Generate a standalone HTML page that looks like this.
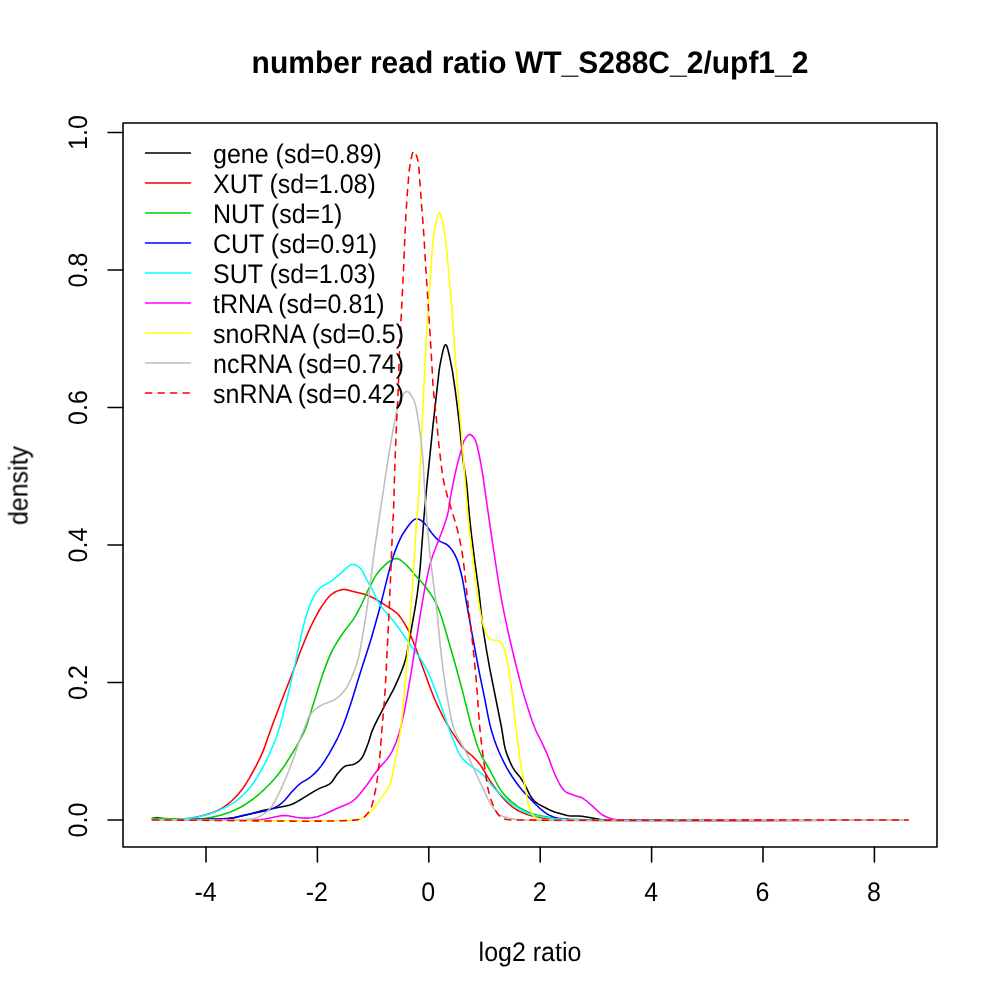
<!DOCTYPE html>
<html><head><meta charset="utf-8"><style>
html,body{margin:0;padding:0;background:#fff;}
svg{display:block;}
.t{opacity:0.999;}
text{font-family:"Liberation Sans",sans-serif;font-size:25px;fill:#000;text-rendering:geometricPrecision;}
</style></head><body>
<svg width="1000" height="1000" viewBox="0 0 1000 1000">
<rect x="0" y="0" width="1000" height="1000" fill="#fff"/>
<g fill="none" stroke-width="1.5625" stroke-linecap="round" stroke-linejoin="round">
<path d="M152.50,818.50 L155.42,817.81 L157.40,817.65 L162.81,818.57 L168.80,818.94 L182.29,819.23 L200.29,819.30 L216.79,819.03 L223.28,818.70 L229.26,818.25 L234.22,817.62 L238.64,816.79 L250.29,813.92 L259.45,811.38 L263.81,810.30 L278.02,807.40 L285.91,806.05 L288.82,805.36 L292.57,803.97 L296.58,801.93 L301.79,798.95 L312.38,792.32 L318.04,789.12 L320.77,787.88 L326.39,785.78 L329.04,784.40 L330.62,783.18 L331.98,781.72 L337.06,774.30 L340.93,769.72 L343.07,767.62 L344.69,766.47 L346.05,765.85 L347.50,765.49 L352.44,764.80 L353.85,764.32 L355.20,763.67 L357.33,762.37 L359.29,760.81 L361.01,759.01 L362.45,756.97 L363.84,754.32 L365.56,750.16 L368.34,742.66 L371.49,732.65 L373.98,726.64 L377.27,719.91 L384.45,706.17 L393.01,690.33 L395.61,684.93 L399.27,676.71 L402.09,669.76 L404.26,663.63 L405.80,658.35 L407.12,652.50 L414.92,609.20 L417.22,594.38 L418.67,582.97 L420.21,567.04 L424.13,515.19 L426.70,486.81 L432.86,426.62 L439.13,370.47 L439.72,366.52 L440.85,360.62 L442.93,350.84 L443.72,347.95 L444.39,346.07 L444.86,345.23 L445.50,344.78 L445.84,344.82 L446.16,345.04 L446.68,345.81 L447.06,346.73 L448.06,350.08 L449.18,354.95 L452.35,370.63 L455.26,390.42 L457.59,408.77 L459.38,424.17 L462.81,458.50 L463.65,464.44 L465.60,475.77 L466.46,482.21 L467.34,491.17 L469.41,516.08 L471.30,533.48 L474.83,561.76 L478.87,590.98 L481.81,618.33 L483.66,632.71 L486.19,648.50 L489.76,668.69 L501.72,728.51 L504.30,744.80 L505.46,749.66 L507.17,754.89 L509.99,761.84 L512.37,766.79 L514.72,770.63 L519.50,776.40 L521.78,779.69 L525.51,786.19 L529.71,794.70 L532.13,798.50 L534.02,800.82 L535.90,802.46 L537.99,803.82 L546.79,808.56 L550.38,810.33 L552.69,811.30 L555.52,812.28 L566.12,815.21 L568.56,815.77 L571.04,816.07 L578.53,815.95 L582.02,816.20 L589.42,817.40 L600.71,819.56 L606.69,820.10 L616.18,820.42 L631.18,820.65 L676.18,820.81 L907.80,820.00" stroke="#000000"/>
<path d="M152.50,818.80 L173.49,819.23 L178.49,819.14 L183.48,818.83 L189.45,818.20 L195.37,817.24 L201.23,815.95 L207.51,814.26 L212.26,812.72 L216.45,811.07 L220.04,809.32 L223.89,807.00 L227.93,804.05 L232.11,800.47 L235.66,796.95 L238.97,793.21 L241.78,789.70 L244.14,786.46 L246.33,783.12 L248.92,778.84 L253.33,771.00 L256.63,764.83 L259.75,758.56 L262.24,753.10 L264.82,746.60 L270.06,731.48 L274.93,718.35 L281.33,701.53 L293.50,670.32 L300.58,651.08 L305.02,639.93 L308.51,631.63 L311.40,625.26 L314.95,618.09 L318.54,611.51 L321.72,606.42 L326.33,599.88 L328.22,597.56 L329.95,595.75 L331.45,594.44 L333.07,593.27 L335.22,592.00 L337.02,591.13 L338.89,590.42 L340.81,589.88 L342.78,589.55 L344.28,589.48 L345.77,589.60 L347.73,589.97 L353.04,591.42 L362.77,593.72 L367.50,595.31 L372.54,597.51 L375.66,599.11 L378.25,600.61 L392.99,610.04 L396.52,612.82 L397.94,614.23 L399.58,616.12 L401.95,619.34 L404.61,623.57 L407.76,629.25 L409.95,633.75 L412.08,638.82 L416.63,650.46 L430.47,688.52 L434.67,699.23 L438.39,707.42 L442.87,716.36 L446.93,723.83 L451.09,730.66 L456.87,739.42 L460.71,744.67 L463.21,747.79 L466.30,751.05 L471.71,755.50 L473.56,757.17 L476.66,760.44 L479.53,763.90 L482.39,768.00 L487.42,776.64 L490.11,780.85 L497.02,790.67 L501.66,796.55 L507.18,802.34 L509.75,804.71 L512.46,806.93 L514.90,808.67 L517.46,810.23 L520.12,811.61 L523.32,813.03 L528.02,814.75 L532.33,816.02 L537.22,817.06 L544.14,818.15 L549.60,818.78 L556.08,819.26 L564.57,819.74 L572.56,819.96 L599.56,820.20 L650.56,820.29 L907.80,820.00" stroke="#FF0000"/>
<path d="M152.50,818.40 L176.00,818.72 L189.99,819.15 L196.99,819.03 L203.96,818.41 L210.39,817.47 L216.75,816.13 L223.02,814.42 L229.65,812.19 L235.65,809.70 L241.43,806.72 L246.96,803.31 L253.09,798.99 L258.92,794.27 L265.20,788.55 L271.19,782.52 L275.21,778.06 L278.70,773.81 L281.68,769.80 L285.05,764.83 L291.71,754.26 L295.83,747.40 L300.96,738.24 L303.92,732.45 L305.66,728.31 L307.30,723.58 L320.79,680.13 L323.29,672.53 L326.58,663.62 L329.20,657.13 L331.68,651.66 L334.22,646.79 L337.82,640.79 L342.53,633.71 L344.88,630.47 L351.93,621.39 L353.63,618.92 L355.47,615.94 L358.13,611.13 L361.75,603.99 L367.31,591.70 L369.27,587.65 L374.17,578.36 L377.06,573.68 L379.20,570.91 L381.58,568.35 L384.81,565.22 L387.86,562.63 L390.29,560.88 L392.45,559.63 L394.30,558.88 L396.25,558.56 L397.24,558.63 L398.67,559.04 L400.84,560.26 L403.52,562.49 L407.20,565.88 L408.93,567.69 L414.67,574.62 L421.78,582.34 L424.96,586.20 L428.53,591.02 L431.37,595.13 L433.74,598.96 L435.88,602.91 L437.78,606.99 L439.63,611.64 L441.58,617.31 L443.79,624.48 L454.30,661.00 L459.37,679.31 L462.72,691.87 L469.01,717.09 L471.71,727.24 L476.28,742.57 L477.91,747.30 L479.57,751.49 L481.01,754.67 L482.61,757.79 L490.38,771.19 L497.32,784.49 L499.60,788.37 L501.87,791.67 L504.07,794.38 L506.44,796.96 L508.94,799.41 L511.94,802.05 L514.69,804.22 L517.94,806.54 L520.90,808.41 L523.96,810.11 L528.49,812.21 L533.17,813.97 L537.02,815.05 L541.92,816.07 L555.20,818.49 L559.66,819.10 L566.63,819.67 L577.12,820.06 L606.62,820.43 L657.12,820.55 L907.80,820.00" stroke="#00CD00"/>
<path d="M152.50,820.00 L202.49,819.25 L222.49,818.75 L227.98,818.45 L231.46,818.06 L234.90,817.45 L244.62,815.09 L266.16,810.62 L270.03,809.63 L273.30,808.39 L276.41,806.79 L279.36,804.92 L282.14,802.79 L285.00,800.00 L291.41,792.33 L295.50,787.94 L297.99,785.48 L299.89,783.86 L301.51,782.68 L307.56,779.17 L310.02,777.47 L314.17,773.86 L317.98,769.89 L321.44,765.62 L324.85,760.69 L329.02,753.86 L333.93,745.15 L337.57,738.03 L340.72,731.22 L343.39,724.75 L346.16,717.25 L351.90,700.18 L359.66,674.85 L367.64,650.10 L371.30,638.15 L376.00,621.81 L380.62,604.93 L388.19,574.36 L391.18,563.25 L393.61,555.11 L396.41,547.62 L398.90,541.61 L401.29,536.66 L403.30,533.20 L407.48,526.98 L410.53,523.02 L412.99,520.54 L414.19,519.65 L415.07,519.18 L416.00,518.88 L416.98,518.78 L417.96,518.91 L418.90,519.21 L420.65,520.15 L422.64,521.66 L425.24,524.00 L427.15,526.31 L429.84,530.52 L431.30,532.55 L434.80,536.79 L437.60,539.64 L439.17,540.86 L440.47,541.61 L445.97,544.00 L447.22,544.82 L448.72,546.13 L450.73,548.35 L452.50,550.77 L454.56,554.20 L456.11,557.33 L457.58,561.05 L459.11,565.81 L461.07,573.05 L462.32,578.40 L463.71,585.77 L466.64,603.53 L472.89,638.48 L479.47,673.36 L484.28,696.37 L487.75,714.54 L489.49,722.86 L491.70,731.58 L494.59,740.63 L496.51,745.78 L498.98,751.79 L501.43,757.27 L504.06,762.67 L506.63,767.53 L509.38,772.29 L512.04,776.52 L515.15,781.06 L518.42,785.48 L521.87,789.77 L525.50,793.89 L530.31,798.98 L535.20,803.99 L539.19,807.77 L543.72,811.70 L546.59,813.70 L549.66,815.37 L552.87,816.77 L555.72,817.69 L558.66,818.30 L562.63,818.77 L569.11,819.31 L586.10,819.84 L613.60,820.04 L659.60,820.12 L907.80,820.00" stroke="#0000FF"/>
<path d="M152.50,819.60 L176.00,819.20 L181.49,818.97 L186.48,818.60 L192.93,817.83 L198.84,816.82 L204.20,815.57 L209.47,813.99 L216.02,811.55 L222.43,808.74 L229.14,805.37 L234.29,802.31 L238.32,799.34 L242.43,795.70 L246.62,791.41 L250.83,786.46 L254.08,782.02 L257.60,776.55 L261.37,770.07 L264.86,763.44 L268.73,755.31 L273.15,745.24 L275.74,738.74 L278.21,731.66 L280.27,724.96 L282.53,716.77 L288.20,693.97 L294.41,667.18 L300.73,637.34 L303.45,625.65 L305.18,619.39 L307.87,610.80 L310.05,604.68 L311.99,600.07 L314.04,596.06 L316.11,592.64 L318.23,589.86 L320.33,587.73 L322.35,586.26 L328.50,582.93 L331.80,580.68 L340.70,573.40 L346.49,567.88 L348.81,565.98 L350.08,565.20 L350.99,564.81 L351.95,564.57 L352.94,564.51 L353.93,564.62 L355.36,565.02 L357.58,566.16 L359.95,567.99 L361.58,569.87 L363.11,572.44 L365.99,578.27 L372.30,589.63 L377.42,600.48 L379.90,604.82 L382.88,608.83 L391.85,618.92 L396.15,624.44 L400.51,630.54 L409.60,643.71 L419.25,657.09 L422.29,661.68 L424.60,665.54 L428.22,672.67 L431.94,681.41 L438.91,699.62 L448.91,728.43 L450.98,734.06 L457.75,750.74 L459.04,753.45 L460.60,756.01 L463.40,759.52 L466.61,762.68 L471.78,766.61 L478.38,771.13 L481.09,773.33 L483.69,775.67 L486.82,778.91 L491.36,784.87 L494.33,788.26 L499.25,793.23 L504.80,798.28 L509.79,802.44 L514.21,805.71 L520.52,809.77 L525.37,812.34 L530.02,814.18 L534.84,815.48 L541.22,816.73 L551.10,818.26 L555.08,818.70 L566.54,819.62 L581.03,820.15 L612.03,820.46 L661.53,820.55 L907.80,820.00" stroke="#00FFFF"/>
<path d="M152.50,820.00 L227.00,820.26 L242.00,820.18 L253.50,819.92 L260.49,819.57 L264.96,819.10 L279.63,816.00 L282.10,815.60 L284.59,815.42 L288.07,815.69 L295.90,817.33 L301.36,817.95 L306.36,818.13 L311.84,817.71 L314.31,817.32 L317.23,816.66 L321.99,815.13 L326.59,813.19 L337.93,807.92 L345.83,804.80 L348.57,803.58 L351.61,801.85 L354.39,799.72 L357.25,796.93 L360.20,793.53 L367.30,784.49 L374.71,773.81 L377.37,770.18 L379.92,767.10 L386.32,760.08 L389.31,756.08 L392.06,751.32 L394.44,746.36 L396.46,741.25 L398.65,734.60 L400.58,727.87 L402.34,720.58 L404.30,711.29 L406.55,699.50 L411.36,671.41 L420.31,614.61 L423.62,594.89 L426.58,579.67 L429.02,568.44 L430.77,561.66 L432.41,556.41 L433.97,552.19 L438.02,541.96 L443.44,527.44 L445.76,520.84 L447.22,516.05 L448.42,510.69 L449.70,501.78 L451.48,491.94 L455.06,473.79 L457.49,463.58 L461.64,448.64 L462.98,443.31 L464.15,440.56 L466.29,437.19 L467.95,435.34 L468.76,434.80 L469.67,434.55 L470.14,434.58 L471.04,434.91 L472.23,435.80 L473.86,437.68 L475.16,439.80 L475.90,441.66 L476.47,443.57 L478.19,450.36 L479.16,454.76 L481.09,465.08 L482.89,475.93 L491.14,533.34 L495.64,563.50 L498.79,583.76 L501.48,599.53 L504.93,617.20 L509.31,637.22 L515.19,662.04 L520.36,682.39 L523.86,694.91 L527.81,707.82 L531.91,720.15 L535.22,729.06 L536.84,732.71 L539.64,738.02 L542.24,743.42 L546.82,753.43 L548.90,758.52 L553.52,771.20 L555.87,776.72 L558.81,782.52 L560.77,786.00 L562.77,788.87 L564.82,791.06 L566.84,792.51 L569.09,793.58 L576.19,795.99 L580.51,797.24 L581.89,797.82 L583.63,798.80 L585.65,800.27 L587.94,802.21 L593.55,807.18 L599.77,812.98 L601.75,814.49 L603.45,815.54 L606.60,817.06 L609.89,818.25 L613.75,819.29 L616.72,819.73 L624.70,820.17 L636.70,820.46 L679.70,820.73 L728.20,820.65 L907.80,820.00" stroke="#FF00FF"/>
<path d="M152.50,820.00 L277.50,820.66 L312.00,820.72 L342.00,820.43 L349.99,820.15 L357.97,819.61 L359.44,819.33 L361.33,818.70 L362.69,818.07 L364.42,817.06 L367.99,814.33 L370.20,812.30 L371.94,810.51 L373.89,808.23 L376.35,805.08 L383.61,794.90 L386.64,790.31 L389.03,785.92 L390.04,783.64 L390.89,781.29 L392.31,775.98 L394.72,762.69 L397.59,748.48 L399.10,740.12 L400.44,731.22 L401.60,721.79 L402.95,708.86 L404.38,693.42 L407.24,658.54 L411.53,601.20 L413.11,577.76 L416.40,524.36 L418.37,500.94 L419.47,480.47 L424.85,367.10 L426.45,336.64 L428.20,307.19 L431.23,265.30 L432.11,250.83 L433.38,237.89 L434.04,232.94 L434.70,228.99 L436.45,220.67 L437.68,215.83 L438.58,213.53 L439.16,212.94 L439.49,212.89 L439.81,213.04 L440.34,213.75 L441.32,216.57 L442.38,220.95 L444.09,229.27 L445.12,236.19 L446.93,252.59 L449.64,281.97 L451.83,307.88 L456.86,378.20 L460.96,427.53 L467.70,514.77 L469.54,532.17 L475.38,579.81 L476.68,589.73 L478.44,601.60 L480.38,612.93 L482.44,622.20 L483.54,626.05 L485.33,631.25 L486.37,634.06 L487.20,635.88 L488.55,637.96 L489.27,638.64 L490.11,639.17 L491.50,639.69 L492.96,640.01 L497.90,640.63 L499.70,641.45 L500.87,642.37 L502.09,643.94 L503.14,646.20 L504.25,649.52 L505.91,655.28 L507.04,660.15 L508.28,666.53 L510.18,678.88 L511.84,691.78 L515.62,725.06 L519.33,754.33 L521.37,768.18 L522.56,774.57 L525.11,786.81 L527.01,797.64 L528.06,802.53 L529.34,806.84 L530.82,811.09 L532.07,813.81 L533.15,815.49 L534.52,816.92 L536.19,818.02 L538.50,818.95 L541.40,819.69 L543.88,819.92 L561.38,820.21 L593.88,820.41 L645.88,820.45 L907.80,820.00" stroke="#FFFF00"/>
<path d="M152.50,820.00 L168.50,819.96 L219.00,820.20 L232.50,820.04 L242.49,819.67 L249.96,819.00 L253.41,818.45 L255.85,817.89 L257.74,817.25 L260.02,816.23 L262.22,815.04 L264.32,813.69 L266.71,811.88 L268.93,809.86 L270.61,808.02 L272.11,806.01 L274.89,801.28 L278.57,794.17 L280.73,789.66 L285.96,777.76 L290.11,767.57 L293.58,758.20 L299.83,739.20 L304.12,729.07 L307.53,719.68 L308.58,717.41 L309.57,715.67 L311.36,713.27 L313.77,710.74 L316.45,708.48 L319.72,706.19 L321.45,705.19 L323.26,704.35 L330.30,701.77 L332.61,700.80 L334.80,699.61 L336.85,698.18 L339.53,695.93 L342.36,693.11 L344.94,690.06 L346.91,687.17 L348.55,684.08 L351.47,677.72 L353.76,672.17 L355.66,667.01 L357.06,662.73 L358.27,658.40 L359.38,653.53 L360.43,648.13 L364.36,625.46 L367.04,608.17 L369.01,593.81 L373.31,559.07 L375.22,544.70 L387.78,461.14 L392.48,433.03 L396.88,410.45 L397.75,406.55 L398.72,403.19 L399.62,400.86 L400.94,398.16 L402.68,395.13 L404.15,393.12 L405.62,391.80 L406.51,391.44 L406.97,391.41 L407.89,391.64 L408.71,392.16 L409.75,393.22 L410.66,394.42 L411.98,396.54 L413.14,398.75 L414.18,401.02 L414.86,402.90 L415.91,406.76 L416.79,411.17 L420.04,432.42 L421.41,443.84 L422.74,457.78 L423.47,468.25 L424.89,494.21 L425.65,505.69 L427.88,533.10 L430.11,555.99 L431.45,567.41 L436.15,604.11 L437.35,615.55 L440.28,646.41 L442.78,667.26 L444.52,680.14 L446.18,691.02 L449.52,710.23 L450.95,717.59 L452.09,722.46 L453.32,726.79 L454.62,730.57 L455.97,733.79 L458.45,738.70 L464.44,749.10 L466.98,753.98 L487.58,798.44 L490.17,803.28 L492.92,807.46 L495.64,811.04 L498.09,813.54 L499.67,814.76 L500.95,815.53 L504.17,816.88 L508.04,817.88 L515.41,819.27 L519.39,819.69 L526.38,820.06 L543.37,820.50 L579.87,820.81 L633.87,820.85 L843.37,820.12 L907.80,820.00" stroke="#BEBEBE"/>
<path d="M152.50,820.00 L185.50,820.16 L267.00,820.98 L300.49,821.19 L329.99,821.07 L340.99,820.84 L348.98,820.50 L353.97,820.11 L358.92,819.46 L360.84,818.91 L362.61,818.01 L363.85,817.17 L365.39,815.89 L367.76,813.32 L369.73,810.44 L371.26,807.29 L372.24,804.46 L373.02,801.56 L375.55,789.83 L376.96,781.45 L378.39,770.55 L379.91,755.62 L381.84,730.70 L384.20,703.30 L385.04,691.83 L385.94,675.86 L389.65,599.45 L392.30,534.50 L393.73,505.54 L394.38,480.54 L395.30,454.06 L396.40,426.58 L398.35,386.13 L399.50,350.15 L403.51,270.25 L404.91,235.78 L405.87,215.30 L407.28,193.85 L408.84,174.41 L409.40,168.94 L410.80,160.56 L412.04,154.69 L412.62,152.78 L413.04,151.91 L413.65,151.38 L414.01,151.37 L414.69,151.85 L415.45,153.10 L416.42,155.41 L417.35,158.26 L418.22,162.16 L418.92,168.12 L419.83,181.58 L423.83,234.93 L425.62,265.38 L428.68,311.78 L431.74,362.19 L432.97,384.65 L433.77,393.62 L436.25,417.49 L438.93,445.36 L441.36,466.22 L442.99,477.60 L443.90,482.52 L444.88,486.91 L447.51,496.56 L451.05,508.54 L455.38,522.38 L457.15,528.64 L459.87,540.32 L462.12,552.62 L463.22,560.04 L464.26,568.47 L467.85,602.78 L471.84,636.55 L473.99,656.43 L476.53,683.31 L478.89,716.73 L479.83,728.19 L481.42,743.11 L483.71,760.96 L486.66,781.25 L488.11,789.11 L489.21,793.99 L490.65,798.77 L492.63,803.91 L495.75,810.73 L497.52,813.74 L498.79,815.28 L500.22,816.67 L501.84,817.84 L503.16,818.53 L504.57,819.02 L506.53,819.44 L509.50,819.83 L512.00,819.97 L538.99,820.15 L596.49,820.22 L907.80,820.00" stroke="#FF0000" stroke-dasharray="6.25 6.25"/>
</g>
<g fill="none" stroke="#000" stroke-width="1.5625" stroke-linecap="round" stroke-linejoin="round">
<rect x="123" y="123" width="814" height="724"/>
<line x1="108" y1="820.0" x2="123" y2="820.0"/>
<line x1="108" y1="682.5" x2="123" y2="682.5"/>
<line x1="108" y1="545.0" x2="123" y2="545.0"/>
<line x1="108" y1="407.5" x2="123" y2="407.5"/>
<line x1="108" y1="270.0" x2="123" y2="270.0"/>
<line x1="108" y1="132.5" x2="123" y2="132.5"/>
<line x1="206.0" y1="847" x2="206.0" y2="862"/>
<line x1="317.4" y1="847" x2="317.4" y2="862"/>
<line x1="428.8" y1="847" x2="428.8" y2="862"/>
<line x1="540.2" y1="847" x2="540.2" y2="862"/>
<line x1="651.6" y1="847" x2="651.6" y2="862"/>
<line x1="763.0" y1="847" x2="763.0" y2="862"/>
<line x1="874.4" y1="847" x2="874.4" y2="862"/>
</g>
<g stroke-width="1.5625" fill="none" stroke-linecap="round">
<line x1="145.5" y1="153" x2="190.5" y2="153" stroke="#000000"/>
<line x1="145.5" y1="183" x2="190.5" y2="183" stroke="#FF0000"/>
<line x1="145.5" y1="213" x2="190.5" y2="213" stroke="#00CD00"/>
<line x1="145.5" y1="243" x2="190.5" y2="243" stroke="#0000FF"/>
<line x1="145.5" y1="273" x2="190.5" y2="273" stroke="#00FFFF"/>
<line x1="145.5" y1="303" x2="190.5" y2="303" stroke="#FF00FF"/>
<line x1="145.5" y1="333" x2="190.5" y2="333" stroke="#FFFF00"/>
<line x1="145.5" y1="363" x2="190.5" y2="363" stroke="#BEBEBE"/>
<line x1="145.5" y1="393" x2="190.5" y2="393" stroke="#FF0000" stroke-dasharray="6.25 6.25"/>
</g>
<g class="t">
<text transform="translate(213,163) scale(1,1.07)">gene (sd=0.89)</text>
<text transform="translate(213,193) scale(1,1.07)">XUT (sd=1.08)</text>
<text transform="translate(213,223) scale(1,1.07)">NUT (sd=1)</text>
<text transform="translate(213,253) scale(1,1.07)">CUT (sd=0.91)</text>
<text transform="translate(213,283) scale(1,1.07)">SUT (sd=1.03)</text>
<text transform="translate(213,313) scale(1,1.07)">tRNA (sd=0.81)</text>
<text transform="translate(213,343) scale(1,1.07)">snoRNA (sd=0.5)</text>
<text transform="translate(213,373) scale(1,1.07)">ncRNA (sd=0.74)</text>
<text transform="translate(213,403) scale(1,1.07)">snRNA (sd=0.42)</text>
<text transform="translate(86.8,820.0) rotate(-90) scale(1,1.07)" text-anchor="middle">0.0</text>
<text transform="translate(86.8,682.5) rotate(-90) scale(1,1.07)" text-anchor="middle">0.2</text>
<text transform="translate(86.8,545.0) rotate(-90) scale(1,1.07)" text-anchor="middle">0.4</text>
<text transform="translate(86.8,407.5) rotate(-90) scale(1,1.07)" text-anchor="middle">0.6</text>
<text transform="translate(86.8,270.0) rotate(-90) scale(1,1.07)" text-anchor="middle">0.8</text>
<text transform="translate(86.8,132.5) rotate(-90) scale(1,1.07)" text-anchor="middle">1.0</text>
<text transform="translate(205.5,901.2) scale(1,1.07)" text-anchor="middle">-4</text>
<text transform="translate(316.9,901.2) scale(1,1.07)" text-anchor="middle">-2</text>
<text transform="translate(428.3,901.2) scale(1,1.07)" text-anchor="middle">0</text>
<text transform="translate(539.7,901.2) scale(1,1.07)" text-anchor="middle">2</text>
<text transform="translate(651.1,901.2) scale(1,1.07)" text-anchor="middle">4</text>
<text transform="translate(762.5,901.2) scale(1,1.07)" text-anchor="middle">6</text>
<text transform="translate(873.9,901.2) scale(1,1.07)" text-anchor="middle">8</text>
<text transform="translate(27,485.5) rotate(-90) scale(1,1.07)" text-anchor="middle">density</text>
<text transform="translate(530,961) scale(1,1.07)" text-anchor="middle">log2 ratio</text>
<text transform="translate(530,72.6) scale(1,1.04)" text-anchor="middle" style="font-size:30px;font-weight:bold">number read ratio WT_S288C_2/upf1_2</text>
</g>
</svg>
</body></html>
